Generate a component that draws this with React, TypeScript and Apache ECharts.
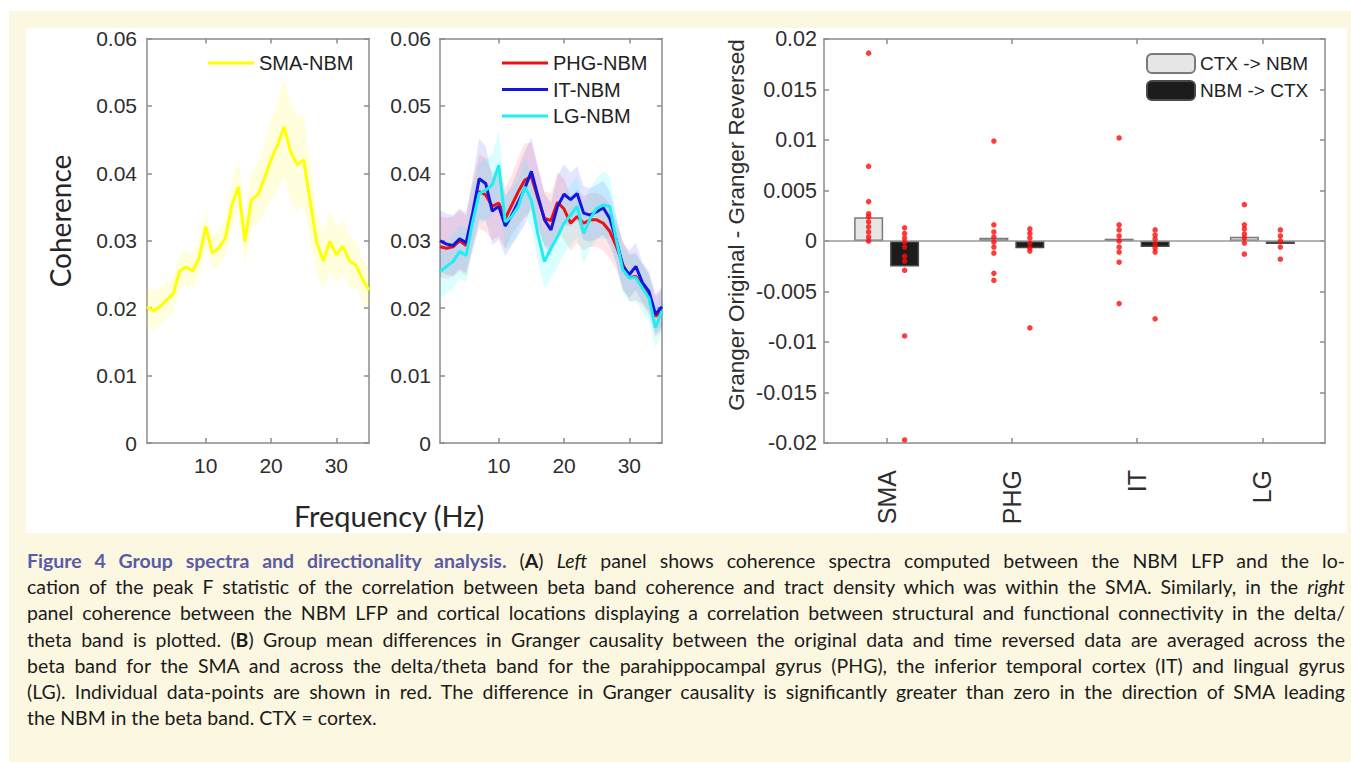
import React, { useEffect, useRef } from "react";
import * as echarts from "echarts";

// ---------- data ----------
const freqHz = [1, 2, 3, 4, 5, 6, 7, 8, 9, 10, 11, 12, 13, 14, 15, 16, 17, 18, 19, 20, 21, 22, 23, 24, 25, 26, 27, 28, 29, 30, 31, 32, 33, 34, 35];
const freqTicks = [10, 20, 30];

const smaMean = [0.0202, 0.0196, 0.0202, 0.0212, 0.0221, 0.0255, 0.0261, 0.0255, 0.0275, 0.0321, 0.0282, 0.0289, 0.0304, 0.0353, 0.038, 0.0299, 0.0361, 0.0368, 0.0393, 0.042, 0.0442, 0.0469, 0.0432, 0.0413, 0.042, 0.0358, 0.0297, 0.027, 0.0299, 0.0279, 0.0292, 0.027, 0.0264, 0.0243, 0.0227];
const smaSem = [0.003, 0.003, 0.0028, 0.0027, 0.0026, 0.0026, 0.0025, 0.0025, 0.0025, 0.0028, 0.0025, 0.0025, 0.0028, 0.0035, 0.004, 0.0035, 0.004, 0.0045, 0.005, 0.006, 0.0065, 0.0075, 0.0072, 0.007, 0.0068, 0.0055, 0.0045, 0.0042, 0.0045, 0.0042, 0.004, 0.0038, 0.0035, 0.0033, 0.003];

const phgMean = [0.0291, 0.0289, 0.0291, 0.03, 0.0293, 0.0338, 0.0373, 0.0368, 0.0351, 0.0356, 0.0333, 0.0353, 0.0373, 0.039, 0.0395, 0.0363, 0.0333, 0.033, 0.0357, 0.0347, 0.0326, 0.0336, 0.0326, 0.0331, 0.0331, 0.0326, 0.0314, 0.0292, 0.0265, 0.0245, 0.0247, 0.0235, 0.022, 0.0188, 0.0196];
const phgSem = [0.0045, 0.0045, 0.0045, 0.0045, 0.0045, 0.005, 0.0055, 0.0055, 0.005, 0.005, 0.0045, 0.0045, 0.005, 0.0055, 0.005, 0.0045, 0.004, 0.004, 0.0045, 0.0045, 0.004, 0.004, 0.004, 0.004, 0.004, 0.004, 0.004, 0.0035, 0.0035, 0.0035, 0.0035, 0.003, 0.003, 0.003, 0.003];

const itMean = [0.03, 0.0295, 0.0293, 0.0303, 0.0297, 0.0341, 0.0392, 0.0385, 0.0344, 0.0351, 0.0322, 0.0338, 0.0358, 0.0378, 0.0403, 0.0366, 0.0331, 0.0316, 0.0351, 0.0369, 0.0361, 0.037, 0.0341, 0.0338, 0.0343, 0.0349, 0.0333, 0.0301, 0.0262, 0.025, 0.0262, 0.0238, 0.0225, 0.0191, 0.0202];
const itSem = [0.0045, 0.0045, 0.0045, 0.0045, 0.0045, 0.005, 0.006, 0.0055, 0.005, 0.005, 0.0045, 0.0045, 0.005, 0.0055, 0.005, 0.0045, 0.004, 0.004, 0.0045, 0.0045, 0.004, 0.004, 0.004, 0.004, 0.004, 0.004, 0.004, 0.0035, 0.0035, 0.0035, 0.0035, 0.003, 0.003, 0.003, 0.003];

const lgMean = [0.0254, 0.0262, 0.0269, 0.0284, 0.0278, 0.0328, 0.037, 0.0375, 0.0383, 0.0412, 0.0328, 0.0336, 0.0351, 0.038, 0.036, 0.0309, 0.0269, 0.0289, 0.0306, 0.0326, 0.0338, 0.0351, 0.0311, 0.0333, 0.0348, 0.0353, 0.0351, 0.0301, 0.0257, 0.0245, 0.0245, 0.023, 0.0215, 0.0171, 0.0196];
const lgSem = [0.004, 0.004, 0.004, 0.004, 0.004, 0.0045, 0.0045, 0.0045, 0.0045, 0.005, 0.004, 0.004, 0.004, 0.004, 0.004, 0.004, 0.004, 0.0045, 0.0045, 0.0045, 0.0045, 0.0045, 0.0045, 0.0045, 0.0045, 0.005, 0.0045, 0.0035, 0.0035, 0.0035, 0.0035, 0.0035, 0.0035, 0.003, 0.003];

const coherenceTicks = [0, 0.01, 0.02, 0.03, 0.04, 0.05, 0.06];
const grangerTicks = [-0.02, -0.015, -0.01, -0.005, 0, 0.005, 0.01, 0.015, 0.02];

const regions = ["SMA", "PHG", "IT", "LG"];
const ctxMeans = [0.00235, 0.00032, 0.00023, 0.00042];
const nbmMeans = [-0.00252, -0.00072, -0.00059, -0.0003];

const smaCtxDots = [0.0186, 0.0074, 0.0039, 0.0027, 0.0024, 0.0019, 0.0014, 0.0009, 0.0004, 0.0];
const smaNbmDots = [0.0013, 0.00075, 0.0003, -0.0001, -0.0006, -0.0015, -0.002, -0.0029, -0.0094, -0.0197];
const phgCtxDots = [0.0099, 0.0016, 0.0009, 0.0004, -0.0001, -0.0006, -0.0012, -0.0032, -0.0039];
const phgNbmDots = [0.0012, 0.00075, 0.0003, -0.0002, -0.0007, -0.001, -0.0086];
const itCtxDots = [0.0102, 0.0016, 0.0011, 0.0005, 0.0, -0.0006, -0.0011, -0.0021, -0.0062];
const itNbmDots = [0.0011, 0.0006, 0.0002, -0.0003, -0.0007, -0.0011, -0.0077];
const lgCtxDots = [0.0036, 0.0016, 0.0012, 0.0007, 0.0003, -0.0002, -0.0013];
const lgNbmDots = [0.0011, 0.0005, 0.0, -0.0006, -0.0018];

// ---------- styles ----------
const AXIS = "#8c8c8c";
const LABEL = "#2e2e2e";
const ARIAL = '"Liberation Sans", Arial, sans-serif';
const CALIBRI = 'Lato, "Open Sans", sans-serif';

function valueXAxis(gridIndex: number, position: string, showLabel: boolean) {
  return {
    type: "value",
    gridIndex,
    position,
    min: 1,
    max: 35,
    axisLine: { show: true, onZero: false, lineStyle: { color: AXIS, width: 1.5 } },
    axisTick: { show: true, inside: true, length: 5, customValues: freqTicks, lineStyle: { color: AXIS, width: 1.5 } },
    axisLabel: { show: showLabel, customValues: freqTicks, margin: 12, fontSize: 21, color: LABEL, fontFamily: ARIAL },
    splitLine: { show: false },
  };
}

function cohYAxis(gridIndex: number, position: string, showLabel: boolean, margin: number) {
  return {
    type: "value",
    gridIndex,
    position,
    min: 0,
    max: 0.06,
    interval: 0.01,
    axisLine: { show: true, onZero: false, lineStyle: { color: AXIS, width: 1.5 } },
    axisTick: { show: true, inside: true, length: 5, lineStyle: { color: AXIS, width: 1.5 } },
    axisLabel: {
      show: showLabel,
      margin,
      fontSize: 21,
      color: LABEL,
      fontFamily: ARIAL,
      formatter: (v: number) => String(Math.round(v * 100) / 100),
    },
    splitLine: { show: false },
  };
}

function bandSeries(name: string, mean: number[], sem: number[], color: string, axisIndex: number) {
  const data = freqHz.map((f, i) => [f, mean[i] - sem[i], mean[i] + sem[i]]);
  return {
    type: "custom",
    name,
    xAxisIndex: axisIndex,
    yAxisIndex: axisIndex,
    silent: true,
    z: 1,
    data,
    encode: { x: 0, y: [1, 2] },
    renderItem: (params: any, api: any) => {
      if (params.dataIndex !== 0) return null;
      const top = data.map((d) => api.coord([d[0], d[2]]));
      const bot = data.map((d) => api.coord([d[0], d[1]])).reverse();
      return { type: "polygon", shape: { points: top.concat(bot) }, style: { fill: color } };
    },
  };
}

function lineSeries(name: string, mean: number[], color: string, axisIndex: number) {
  return {
    type: "line",
    name,
    xAxisIndex: axisIndex,
    yAxisIndex: axisIndex,
    data: freqHz.map((f, i) => [f, mean[i]]),
    showSymbol: false,
    symbol: "none",
    color,
    lineStyle: { color, width: 3 },
    z: 3,
  };
}

function dotSeries(name: string, lists: number[][], offset: number) {
  const data: any[] = [];
  lists.forEach((vals, ci) => vals.forEach((v) => data.push([regions[ci], v])));
  return {
    type: "scatter",
    name,
    xAxisIndex: 4,
    yAxisIndex: 4,
    symbolSize: 5.5,
    symbolOffset: [offset, 0],
    itemStyle: { color: "#ff0a0a" },
    data,
    z: 5,
  };
}

export default function App() {
  const ref = useRef<HTMLDivElement>(null);

  useEffect(() => {
    const chart = echarts.init(ref.current!, null, { renderer: "svg" });
    const option: any = {
      animation: false,
      backgroundColor: "#ffffff",
      grid: [
        { left: 121, top: 8, width: 222, height: 407 },
        { left: 414, top: 8, width: 222, height: 407 },
        { left: 798, top: 8, width: 501, height: 407 },
      ],
      xAxis: [
        valueXAxis(0, "bottom", true),
        valueXAxis(0, "top", false),
        valueXAxis(1, "bottom", true),
        valueXAxis(1, "top", false),
        {
          type: "category",
          gridIndex: 2,
          position: "bottom",
          data: regions,
          axisLine: { show: true, onZero: false, lineStyle: { color: AXIS, width: 1.5 } },
          axisTick: { show: true, inside: true, alignWithLabel: true, length: 5, lineStyle: { color: AXIS, width: 1.5 } },
          axisLabel: { rotate: 90, margin: 27, fontSize: 25, color: LABEL, fontFamily: ARIAL },
          splitLine: { show: false },
        },
        {
          type: "category",
          gridIndex: 2,
          position: "top",
          data: regions,
          axisLine: { show: true, onZero: false, lineStyle: { color: AXIS, width: 1.5 } },
          axisTick: { show: true, inside: true, alignWithLabel: true, length: 5, lineStyle: { color: AXIS, width: 1.5 } },
          axisLabel: { show: false },
          splitLine: { show: false },
        },
      ],
      yAxis: [
        cohYAxis(0, "left", true, 10),
        cohYAxis(0, "right", false, 10),
        cohYAxis(1, "left", true, 9),
        cohYAxis(1, "right", false, 9),
        {
          type: "value",
          gridIndex: 2,
          position: "left",
          min: -0.02,
          max: 0.02,
          interval: 0.005,
          axisLine: { show: true, onZero: false, lineStyle: { color: AXIS, width: 1.5 } },
          axisTick: { show: true, inside: true, length: 5, lineStyle: { color: AXIS, width: 1.5 } },
          axisLabel: {
            margin: 7,
            fontSize: 21.5,
            color: LABEL,
            fontFamily: ARIAL,
            formatter: (v: number) => String(Math.round(v * 1000) / 1000),
          },
          splitLine: { show: false },
        },
        {
          type: "value",
          gridIndex: 2,
          position: "right",
          min: -0.02,
          max: 0.02,
          interval: 0.005,
          axisLine: { show: true, onZero: false, lineStyle: { color: AXIS, width: 1.5 } },
          axisTick: { show: true, inside: true, length: 5, lineStyle: { color: AXIS, width: 1.5 } },
          axisLabel: { show: false },
          splitLine: { show: false },
        },
      ],
      legend: [
        {
          data: ["SMA-NBM"],
          orient: "vertical",
          left: 182,
          top: 25,
          padding: 0,
          icon: "rect",
          itemWidth: 46,
          itemHeight: 3,
          itemGap: 6,
          selectedMode: false,
          textStyle: { fontSize: 20, color: "#222", fontFamily: ARIAL },
        },
        {
          data: ["PHG-NBM", "IT-NBM", "LG-NBM"],
          orient: "vertical",
          left: 476,
          top: 25,
          padding: 0,
          icon: "rect",
          itemWidth: 46,
          itemHeight: 3,
          itemGap: 6.5,
          selectedMode: false,
          textStyle: { fontSize: 20, color: "#222", fontFamily: ARIAL },
        },
        {
          data: ["CTX -> NBM", "NBM -> CTX"],
          orient: "vertical",
          left: 1120,
          top: 25,
          padding: 0,
          itemWidth: 48,
          itemHeight: 19,
          itemGap: 6,
          selectedMode: false,
          textStyle: { fontSize: 19, color: "#222", fontFamily: ARIAL },
        },
      ],
      graphic: [
        {
          type: "text",
          x: 34,
          y: 193,
          rotation: Math.PI / 2,
          style: { text: "Coherence", fontSize: 28, fontFamily: CALIBRI, fill: "#262626", textAlign: "center", align: "center", textVerticalAlign: "middle", verticalAlign: "middle" },
        },
        {
          type: "text",
          x: 363,
          y: 487,
          style: { text: "Frequency (Hz)", fontSize: 29, fontFamily: CALIBRI, fill: "#262626", textAlign: "center", align: "center", textVerticalAlign: "middle", verticalAlign: "middle" },
        },
        {
          type: "text",
          x: 710,
          y: 197,
          rotation: Math.PI / 2,
          style: { text: "Granger Original - Granger Reversed", fontSize: 22.5, fontFamily: ARIAL, fill: "#2e2e2e", textAlign: "center", align: "center", textVerticalAlign: "middle", verticalAlign: "middle" },
        },
      ],
      series: [
        bandSeries("band-sma", smaMean, smaSem, "rgba(255,255,0,0.13)", 0),
        lineSeries("SMA-NBM", smaMean, "#ffff00", 0),
        bandSeries("band-phg", phgMean, phgSem, "rgba(255,0,0,0.10)", 2),
        bandSeries("band-it", itMean, itSem, "rgba(0,0,255,0.10)", 2),
        bandSeries("band-lg", lgMean, lgSem, "rgba(0,255,255,0.14)", 2),
        lineSeries("PHG-NBM", phgMean, "#ee1111", 2),
        lineSeries("IT-NBM", itMean, "#1515e0", 2),
        lineSeries("LG-NBM", lgMean, "#20eef0", 2),
        {
          type: "bar",
          name: "CTX -> NBM",
          xAxisIndex: 4,
          yAxisIndex: 4,
          data: ctxMeans,
          barWidth: 29,
          barGap: "24%",
          itemStyle: { color: "#e6e6e6", borderColor: "#7a7a7a", borderWidth: 1.5 },
          markLine: {
            silent: true,
            symbol: "none",
            label: { show: false },
            lineStyle: { color: "#9a9a9a", width: 1.5, type: "solid" },
            data: [{ yAxis: 0 }],
          },
          z: 2,
        },
        {
          type: "bar",
          name: "NBM -> CTX",
          xAxisIndex: 4,
          yAxisIndex: 4,
          data: nbmMeans,
          barWidth: 29,
          barGap: "24%",
          itemStyle: { color: "#1c1c1c", borderColor: "#4a4a4a", borderWidth: 1.5 },
          z: 2,
        },
        dotSeries("ctx-dots", [smaCtxDots, phgCtxDots, itCtxDots, lgCtxDots], -18),
        dotSeries("nbm-dots", [smaNbmDots, phgNbmDots, itNbmDots, lgNbmDots], 18),
      ],
    };
    chart.setOption(option);
    return () => chart.dispose();
  }, []);

  const line: React.CSSProperties = { textAlign: "justify", textAlignLast: "justify" as any, height: 26.2 };
  const title: React.CSSProperties = { color: "#5a5ba6", fontWeight: 700 };

  return (
    <div style={{ position: "absolute", left: 0, top: 0, width: 1351, height: 762, background: "#ffffff", overflow: "hidden" }}>
      <div style={{ position: "absolute", left: 9, top: 11, width: 1342, height: 751, background: "#fcf7e0" }} />
      <div ref={ref} style={{ position: "absolute", left: 26, top: 28, width: 1321, height: 505, background: "#ffffff" }} />
      <div
        style={{
          position: "absolute",
          left: 27,
          top: 548,
          width: 1318,
          fontFamily: 'Lato, "Open Sans", sans-serif',
          fontSize: 19.5,
          lineHeight: "26.2px",
          color: "#1b1b1b",
        }}
      >
        <div style={line}>
          <span style={title}>Figure 4 Group spectra and directionality analysis.</span> (<b>A</b>) <i>Left</i> panel shows coherence spectra computed between the NBM LFP and the lo-
        </div>
        <div style={line}>
          cation of the peak F statistic of the correlation between beta band coherence and tract density which was within the SMA. Similarly, in the <i>right</i>
        </div>
        <div style={line}>
          panel coherence between the NBM LFP and cortical locations displaying a correlation between structural and functional connectivity in the delta/
        </div>
        <div style={line}>
          theta band is plotted. (<b>B</b>) Group mean differences in Granger causality between the original data and time reversed data are averaged across the
        </div>
        <div style={line}>
          beta band for the SMA and across the delta/theta band for the parahippocampal gyrus (PHG), the inferior temporal cortex (IT) and lingual gyrus
        </div>
        <div style={line}>
          (LG). Individual data-points are shown in red. The difference in Granger causality is significantly greater than zero in the direction of SMA leading
        </div>
        <div style={{ height: 26.2 }}>the NBM in the beta band. CTX = cortex.</div>
      </div>
    </div>
  );
}
